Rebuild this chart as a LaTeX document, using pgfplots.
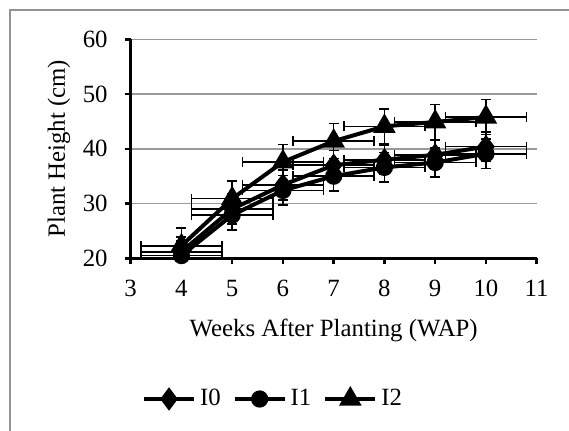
\documentclass[border=0pt]{standalone}
\usepackage{pgfplots}
\pgfplotsset{compat=1.18}
\usepackage{pgfplotstable}
\usepackage{fontspec}
\setmainfont{Liberation Serif}

% week, height, x error, y error
\pgfplotstableread{
x  y    ex   ey
4  21.2 0.8  2.7
5  29.0 0.8  2.7
6  33.4 0.8  2.7
7  37.0 0.8  2.7
8  38.0 0.8  2.7
9  38.9 0.8  2.7
10 40.4 0.8  2.7
}\datazero
\pgfplotstableread{
x  y    ex   ey
4  20.5 0.8  2.7
5  27.9 0.8  2.7
6  32.4 0.8  2.7
7  35.0 0.8  2.7
8  36.6 0.8  2.7
9  37.5 0.8  2.7
10 39.1 0.8  2.7
}\dataone
\pgfplotstableread{
x  y    ex   ey
4  22.3 0.8  3.2
5  30.9 0.8  3.2
6  37.6 0.8  3.2
7  41.4 0.8  3.2
8  44.1 0.8  3.2
9  44.9 0.8  3.2
10 45.8 0.8  3.2
}\datatwo

\pgfplotsset{
    errs/.style={
        error bars/x dir=both, error bars/x explicit,
        error bars/y dir=both, error bars/y explicit,
        error bars/error bar style={line width=0.8pt, black, solid},
        error bars/error mark options={black, mark size=2.5pt, line width=0.8pt, rotate=90},
    },
}

\begin{document}
\begin{tikzpicture}
\begin{axis}[
    at={(0,0)}, anchor=south west,
    scale only axis,
    width=203pt, height=109.5pt,
    xmin=3, xmax=11, ymin=20, ymax=60,
    xtick={3,4,...,11}, ytick={20,30,...,60},
    axis lines*=left,
    axis line style={line width=1.75pt},
    tick align=outside,
    major tick length=3pt,
    tick style={line width=1.2pt, black},
    ymajorgrids,
    major grid style={draw=gray!80, line width=0.75pt},
    font=\fontsize{12.4}{14}\selectfont,
    /pgf/number format/assume math mode=true,
    xticklabel style={yshift=-4.5pt},
    yticklabel style={xshift=-5pt},
    xlabel={Weeks After Planting (WAP)},
    ylabel={Plant Height (cm)},
    every axis x label/.style={at={(axis description cs:0.5,-0.3274)}, anchor=center},
    every axis y label/.style={at={(axis description cs:-0.1766,0.5)}, rotate=90, anchor=center},
    legend columns=3,
    legend style={draw=none, at={(axis description cs:0.353,-0.6425)}, anchor=center,
        /tikz/every even column/.append style={column sep=4pt}},
    legend image code/.code={
        \draw[mark repeat=2, mark phase=2] plot coordinates {(0pt,0pt) (12.5pt,0pt) (25pt,0pt)};
    },
]
\addplot[black, line width=2pt, mark=diamond*, mark size=4.2pt, errs]
    table[x=x, y=y, x error=ex, y error=ey] {\datazero};
\addplot[black, line width=2pt, mark=*, mark size=3.3pt, errs]
    table[x=x, y=y, x error=ex, y error=ey] {\dataone};
\addplot[black, line width=2pt, mark=triangle*, mark size=4.5pt, errs]
    table[x=x, y=y, x error=ex, y error=ey] {\datatwo};
\legend{I0, I1, I2}
\end{axis}
% chart area frame, running off the right and bottom edges
\draw[gray!85, line width=1pt] (-60.35pt,-120pt) -- (-60.35pt,124.15pt) -- (240pt,124.15pt);
\pgfresetboundingbox
\useasboundingbox (-65.35pt,-85.85pt) rectangle (219.15pt,129.15pt);
\end{tikzpicture}
\end{document}
